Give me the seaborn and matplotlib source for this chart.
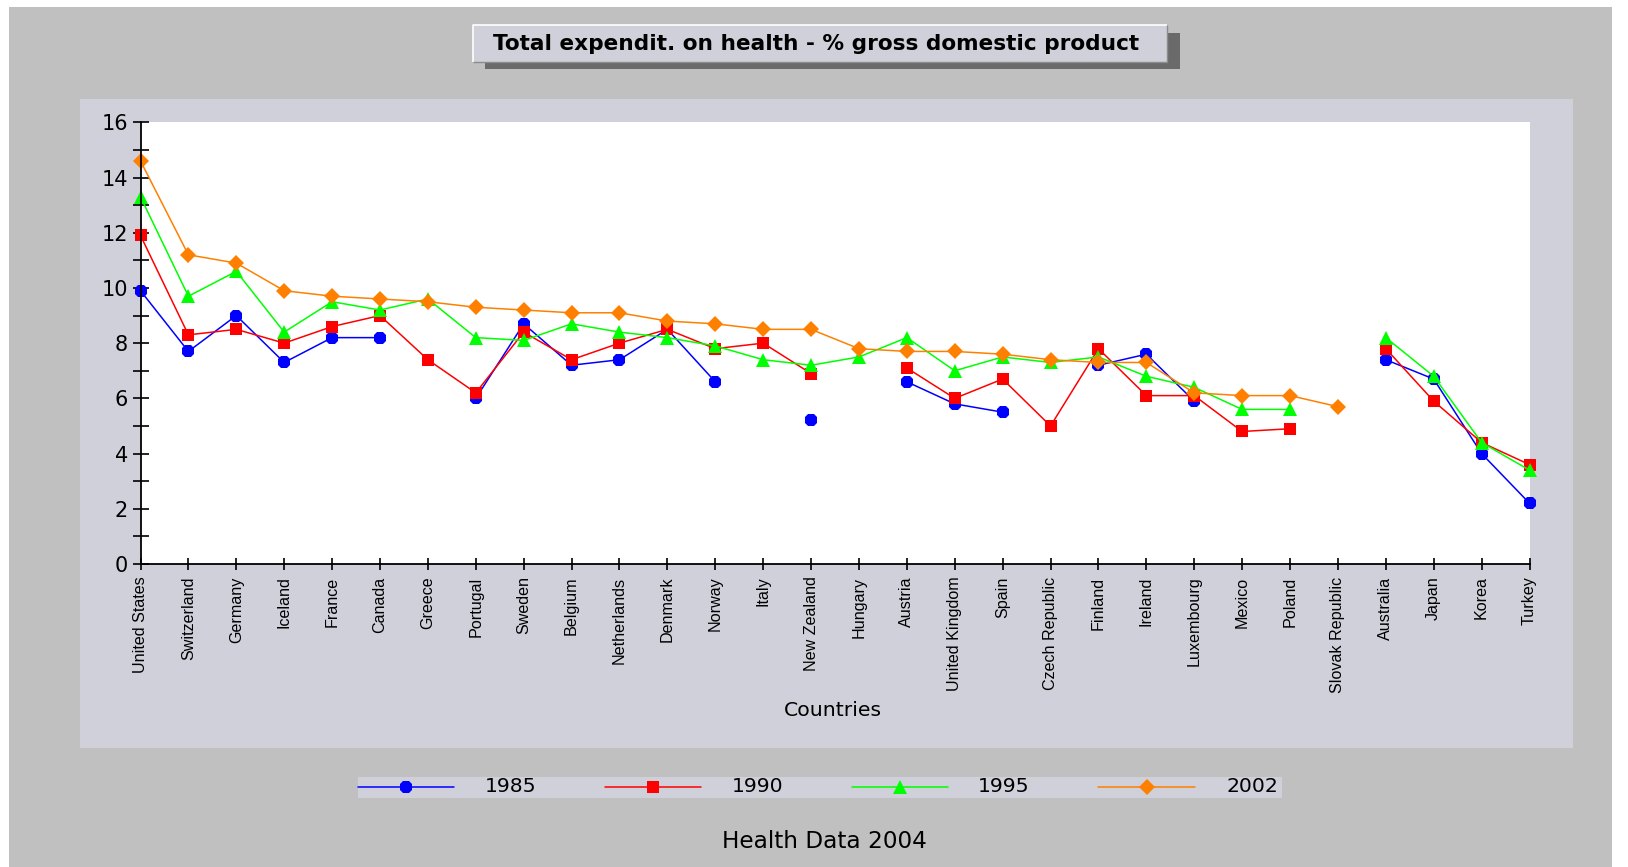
import numpy as np
import pandas as pd
import matplotlib
matplotlib.use("Agg")
import matplotlib.pyplot as plt
from matplotlib.patches import Rectangle
from matplotlib.ticker import MultipleLocator
import seaborn as sns

# ---- data: total expenditure on health, % of GDP ----
countries = [
    "United States", "Switzerland", "Germany", "Iceland", "France", "Canada",
    "Greece", "Portugal", "Sweden", "Belgium", "Netherlands", "Denmark",
    "Norway", "Italy", "New Zealand", "Hungary", "Austria", "United Kingdom",
    "Spain", "Czech Republic", "Finland", "Ireland", "Luxembourg", "Mexico",
    "Poland", "Slovak Republic", "Australia", "Japan", "Korea", "Turkey",
]
years = ["1985", "1990", "1995", "2002"]
nan = np.nan
exp_1985 = [9.9, 7.7, 9.0, 7.3, 8.2, 8.2, nan, 6.0, 8.7, 7.2, 7.4, 8.5,
            6.6, nan, 5.2, nan, 6.6, 5.8, 5.5, nan, 7.2, 7.6, 5.9, nan,
            nan, nan, 7.4, 6.7, 4.0, 2.2]
exp_1990 = [11.9, 8.3, 8.5, 8.0, 8.6, 9.0, 7.4, 6.2, 8.4, 7.4, 8.0, 8.5,
            7.8, 8.0, 6.9, nan, 7.1, 6.0, 6.7, 5.0, 7.8, 6.1, 6.1, 4.8,
            4.9, nan, 7.8, 5.9, 4.4, 3.6]
exp_1995 = [13.3, 9.7, 10.6, 8.4, 9.5, 9.2, 9.6, 8.2, 8.1, 8.7, 8.4, 8.2,
            7.9, 7.4, 7.2, 7.5, 8.2, 7.0, 7.5, 7.3, 7.5, 6.8, 6.4, 5.6,
            5.6, nan, 8.2, 6.8, 4.4, 3.4]
exp_2002 = [14.6, 11.2, 10.9, 9.9, 9.7, 9.6, 9.5, 9.3, 9.2, 9.1, 9.1, 8.8,
            8.7, 8.5, 8.5, 7.8, 7.7, 7.7, 7.6, 7.4, 7.3, 7.3, 6.2, 6.1,
            6.1, 5.7, nan, nan, nan, nan]
series = [exp_1985, exp_1990, exp_1995, exp_2002]

# ---- styling ----
colors = {"1985": "#0000FF", "1990": "#FF0000", "1995": "#00FF00", "2002": "#FF8000"}
markers = {"1985": "8", "1990": "s", "1995": "^", "2002": "D"}
msizes = {"1985": 9.5, "1990": 8.5, "1995": 9.5, "2002": 8.0}
GRAY = "#C0C0C0"
PANEL = "#D0D0DB"

# long-form table; a missing value breaks the line into separate runs
rows = []
for yr, vals in zip(years, series):
    run = 0
    prev_missing = True
    for i, v in enumerate(vals):
        if np.isnan(v):
            prev_missing = True
            continue
        if prev_missing:
            run += 1
        prev_missing = False
        rows.append({"year": yr, "pos": i, "value": v, "run": f"{yr}-{run}"})
df = pd.DataFrame(rows)

sns.set_theme(style="white")
plt.rcParams["font.family"] = ["DejaVu Sans"]

W, H = 1628, 867
fig = plt.figure(figsize=(W / 100, H / 100), dpi=100)
fig.patch.set_facecolor("white")

# background layer in pixel coordinates
bg = fig.add_axes([0, 0, 1, 1], zorder=-5)
bg.set_xlim(0, W)
bg.set_ylim(H, 0)
bg.axis("off")


def box(x0, y0, x1, y1, **kw):
    bg.add_patch(Rectangle((x0, y0), x1 - x0, y1 - y0, **kw))


box(9, 7, 1612, H, fc=GRAY, ec="none")
box(80, 99, 1573, 748, fc=PANEL, ec="none")
# title box with drop shadow and bevel
box(485, 33, 1180, 69, fc="#6A6A6A", ec="none")
box(473, 25, 1167, 62, fc=PANEL, ec="none")
bg.plot([473, 473, 1167], [62, 25, 25], color="white", lw=1.2, solid_capstyle="butt")
bg.plot([473, 1167, 1167], [62, 62, 25], color="#8C8C8C", lw=1.0, solid_capstyle="butt")
title = bg.text(816, 43.5, "Total expendit. on health - % gross domestic product",
                ha="center", va="center", fontsize=14, fontweight="bold", color="black")
# legend strip
box(358, 777, 1282, 798, fc=PANEL, ec="none")

# ---- main plot ----
ax = fig.add_axes([140.5 / W, (H - 564) / H, 1389 / W, (564 - 122.3) / H])
ax.set_facecolor("white")
for yr in years:
    sub = df[df["year"] == yr]
    sns.lineplot(data=sub, x="pos", y="value", units="run", estimator=None,
                 sort=False, color=colors[yr], marker=markers[yr],
                 markersize=msizes[yr], markeredgewidth=0, linewidth=1.1,
                 clip_on=False, legend=False, ax=ax)

ax.set_xlim(0, len(countries) - 1)
ax.set_ylim(0, 16)
ax.set_xticks(range(len(countries)))
ax.set_xticklabels(countries, rotation=90, ha="center", va="top",
                   fontfamily=["Liberation Sans Narrow", "Liberation Sans"])
ax.set_yticks(range(0, 17, 2))
ax.yaxis.set_minor_locator(MultipleLocator(1))
ax.tick_params(axis="y", which="both", direction="inout", length=11, width=1.2,
               left=True, colors="black", labelsize=15, pad=3.5)
ax.tick_params(axis="x", which="major", direction="inout", length=8, width=1.2,
               bottom=True, colors="black", labelsize=12, pad=5)
for side in ("top", "right"):
    ax.spines[side].set_visible(False)
for side in ("left", "bottom"):
    ax.spines[side].set_color("black")
    ax.spines[side].set_linewidth(1.3)
ax.set_ylabel("")
ax.set_xlabel("Countries", fontsize=13, color="black")
ax.xaxis.set_label_coords((832.7 - 140.5) / 1389, -(711 - 564) / 441.7)
ax.xaxis.label.set_va("center")

# legend entries
leg_y = 786.5
leg_entries = [(358, 454, 406, 485), (605, 701, 653, 732),
               (852, 948, 900, 978), (1098, 1195, 1147, 1226)]
leg_texts = []
for yr, (x0, x1, xm, xt) in zip(years, leg_entries):
    bg.plot([x0, x1], [leg_y, leg_y], color=colors[yr], lw=1.1)
    bg.plot([xm], [leg_y], color=colors[yr], marker=markers[yr],
            markersize=msizes[yr], markeredgewidth=0, linestyle="none")
    leg_texts.append(bg.text(xt, leg_y + 0.5, yr, ha="left", va="center",
                             fontsize=13, color="black"))

footer = bg.text(824.5, 841, "Health Data 2004", ha="center", va="center",
                 fontsize=14, color="black")


def fit(text_obj, target, use_height=False):
    for _ in range(2):
        fig.canvas.draw()
        bb = text_obj.get_window_extent(fig.canvas.get_renderer())
        cur = bb.height if use_height else bb.width
        if cur > 0:
            text_obj.set_fontsize(text_obj.get_fontsize() * target / cur)


fit(title, 645)
fit(footer, 205)
fit(ax.xaxis.label, 98)
for t in leg_texts:
    fit(t, 52)

# rotated country labels: scale so "United States" spans ~97 px
fig.canvas.draw()
labels = ax.get_xticklabels()
bb = labels[0].get_window_extent(fig.canvas.get_renderer())
new_size = labels[0].get_fontsize() * 97 / bb.height
for t in labels:
    t.set_fontsize(new_size)

fig.savefig("out.png", dpi=100, facecolor="white")
